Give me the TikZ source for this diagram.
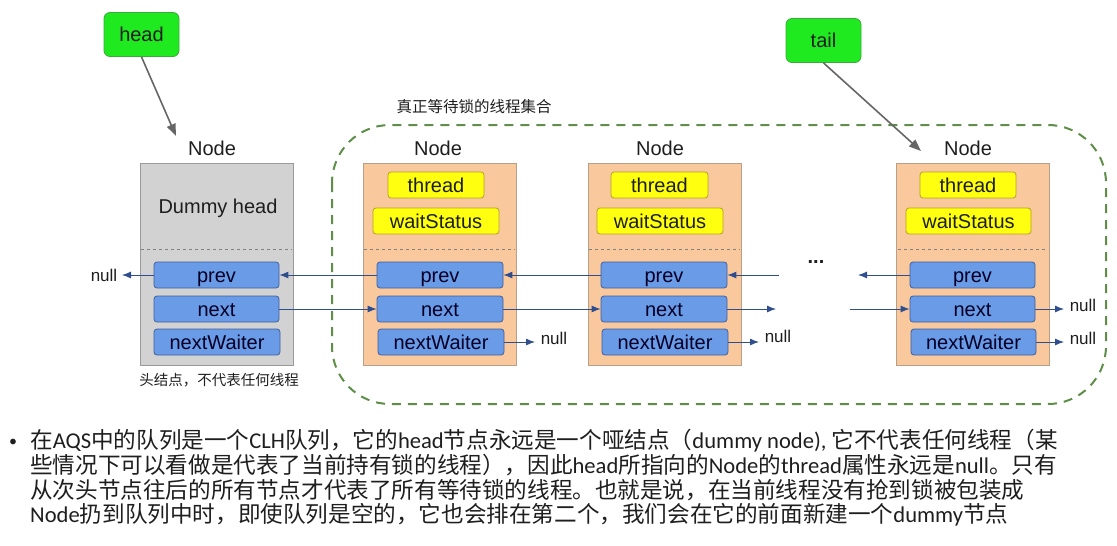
\documentclass[tikz,border=0pt]{standalone}
\usepackage{fontspec}
\setmainfont{Liberation Sans}
\newfontfamily\cjk{Noto Sans CJK SC}
\newfontfamily\lat{Carlito}
\usetikzlibrary{arrows.meta}
\definecolor{ptrfill}{HTML}{1FEA1F}
\definecolor{ptrdraw}{HTML}{3BAA3B}
\definecolor{grayfill}{HTML}{D2D2D2}
\definecolor{graydraw}{HTML}{9A9A9A}
\definecolor{orfill}{HTML}{F9C89D}
\definecolor{ordraw}{HTML}{B8A088}
\definecolor{yelfill}{HTML}{FFFF10}
\definecolor{yeldraw}{HTML}{B8A028}
\definecolor{bluefill}{HTML}{6A9BE6}
\definecolor{bluedraw}{HTML}{3F5F9F}
\definecolor{arrowc}{HTML}{2F4E8E}
\definecolor{setc}{HTML}{5E8E48}
\definecolor{txt}{HTML}{1E1E1E}
\begin{document}
\begin{tikzpicture}[x=1pt,y=-1pt,
  ptrbox/.style={draw=ptrdraw,fill=ptrfill,rounded corners=6pt,line width=0.8pt,minimum width=75pt,minimum height=44pt,font=\fontsize{20}{24}\selectfont,text=txt},
  ptrarrow/.style={draw=black!60,line width=1.6pt,-{Triangle[length=12pt,width=9pt]}},
  graynode/.style={draw=graydraw,fill=grayfill,line width=0.8pt,minimum width=153pt,minimum height=202pt},
  ornode/.style={draw=ordraw,fill=orfill,line width=0.8pt,minimum width=153pt,minimum height=202pt},
  nodelabel/.style={font=\fontsize{20}{24}\selectfont,text=txt},
  yelbox/.style={draw=yeldraw,fill=yelfill,rounded corners=3pt,line width=0.8pt,minimum height=26pt,inner sep=0pt,text height=14pt,text depth=0pt,font=\fontsize{20}{24}\selectfont,text=txt},
  bluebox/.style={draw=bluedraw,fill=bluefill,rounded corners=3pt,line width=0.8pt,minimum height=26pt,inner sep=0pt,text height=14pt,text depth=0pt,font=\fontsize{20}{24}\selectfont,text=black!85!blue},
  link/.style={draw=arrowc,line width=0.9pt,-{Latex[length=9pt,width=7pt]}},
  nulltxt/.style={font=\fontsize{17}{20}\selectfont,text=txt,inner sep=0pt},
  sep/.style={draw=black!50,dashed,line width=0.8pt},
  para/.style={font=\cjk\fontsize{22.6}{25}\selectfont,text=txt,inner sep=0pt,anchor=base west}
]
\useasboundingbox (0,0) rectangle (1117,546);

% set of waiting threads
\draw[setc,line width=2pt,dash pattern=on 9pt off 7pt,rounded corners=58pt] (332,125) rectangle (1106,404);
\node[font=\cjk\fontsize{15.5}{18}\selectfont,text=txt,anchor=west] (setlabel) at (393,107) {真正等待锁的线程集合};

% pointer boxes
\node[ptrbox] (head) at (141.5,34.5) {head};
\node[ptrbox] (tail) at (823.5,40.5) {tail};
\coordinate (headtip) at (176,136);
\coordinate (tailtip) at (921,151);
\draw[ptrarrow] (head.south) -- (headtip);
\draw[ptrarrow] (tail.south) -- (tailtip);

% node frames
\node[graynode] (n1) at (216.5,264) {};
\node[ornode] (n2) at (439.5,264) {};
\node[ornode] (n3) at (664.5,264) {};
\node[ornode] (n4) at (973,264) {};

\node[nodelabel] (l1) at (212,148) {Node};
\node[nodelabel] (l2) at (438,148) {Node};
\node[nodelabel] (l3) at (660,148) {Node};
\node[nodelabel] (l4) at (968,148) {Node};

\draw[sep] (141,249) -- (292,249);
\draw[sep] (364,249) -- (515,249);
\draw[sep] (589,249) -- (740,249);
\draw[sep] (898,249) -- (1048,249);

% node 1 contents
\node[nodelabel] (dh) at (218,208) {Dummy head};
\node[bluebox,minimum width=125pt] (p1) at (216.5,275) {prev};
\node[bluebox,minimum width=125pt] (x1) at (216.5,309) {next};
\node[bluebox,minimum width=126pt] (w1) at (217,342) {nextWaiter};
\node[font=\cjk\fontsize{14.5}{17}\selectfont,text=txt] (hl) at (219,380) {头结点，不代表任何线程};

% node 2
\node[yelbox,minimum width=96pt] (t2) at (436,185) {thread};
\node[yelbox,minimum width=126pt] (s2) at (436,221) {waitStatus};
\node[bluebox,minimum width=126pt] (p2) at (440,275) {prev};
\node[bluebox,minimum width=126pt] (x2) at (440,309) {next};
\node[bluebox,minimum width=126pt] (w2) at (441,342) {nextWaiter};

% node 3
\node[yelbox,minimum width=97pt] (t3) at (659.5,185) {thread};
\node[yelbox,minimum width=126pt] (s3) at (660,221) {waitStatus};
\node[bluebox,minimum width=126pt] (p3) at (664,275) {prev};
\node[bluebox,minimum width=126pt] (x3) at (664,309) {next};
\node[bluebox,minimum width=126pt] (w3) at (665,342) {nextWaiter};

% node 4
\node[yelbox,minimum width=96pt] (t4) at (968,185) {thread};
\node[yelbox,minimum width=125pt] (s4) at (968.5,221) {waitStatus};
\node[bluebox,minimum width=125pt] (p4) at (972.5,275) {prev};
\node[bluebox,minimum width=125pt] (x4) at (972.5,309) {next};
\node[bluebox,minimum width=125pt] (w4) at (973.5,342) {nextWaiter};

\node[font=\fontsize{20}{24}\selectfont\bfseries,text=txt] (dots) at (816,262) {...};

% null labels
\node[nulltxt] (null0) at (104,275) {null};
\node[nulltxt] (null2) at (554,338) {null};
\node[nulltxt] (null3) at (778,336) {null};
\node[nulltxt] (null4a) at (1083,305) {null};
\node[nulltxt] (null4b) at (1083,338) {null};

% dangling ends
\coordinate (e3p) at (779,275);
\coordinate (e4p) at (858,275);
\coordinate (e3n) at (776,309);
\coordinate (e4n) at (850,309);
\coordinate (e0p) at (122,275);
\coordinate (e2w) at (535,342);
\coordinate (e3w) at (759,342);
\coordinate (e4n2) at (1064,309);
\coordinate (e4w) at (1064,342);

% prev links
\draw[link] (p1.west) -- (e0p);
\draw[link] (p2.west) -- (p1.east);
\draw[link] (p3.west) -- (p2.east);
\draw[link] (e3p) -- (p3.east);
\draw[link] (p4.west) -- (e4p);
% next links
\draw[link] (x1.east) -- (x2.west);
\draw[link] (x2.east) -- (x3.west);
\draw[link] (x3.east) -- (e3n);
\draw[link] (e4n) -- (x4.west);
\draw[link] (x4.east) -- (e4n2);
% nextWaiter links
\draw[link] (w2.east) -- (e2w);
\draw[link] (w3.east) -- (e3w);
\draw[link] (w4.east) -- (e4w);

% paragraph
\node[font=\lat\fontsize{16}{20}\selectfont,text=txt,inner sep=0pt,anchor=base] (bullet) at (13,446) {•};
\node[para] (line1) at (30,448) {在{\lat AQS}中的队列是一个{\lat CLH}队列，它的{\lat head}节点永远是一个哑结点（{\lat dummy node), }它不代表任何线程（某};
\node[para] (line2) at (30,473) {些情况下可以看做是代表了当前持有锁的线程），因此{\lat head}所指向的{\lat Node}的{\lat thread}属性永远是{\lat null}。只有};
\node[para] (line3) at (30,498) {从次头节点往后的所有节点才代表了所有等待锁的线程。也就是说，在当前线程没有抢到锁被包装成};
\node[para] (line4) at (30,522) {{\lat Node}扔到队列中时，即使队列是空的，它也会排在第二个，我们会在它的前面新建一个{\lat dummy}节点};
\end{tikzpicture}
\end{document}
